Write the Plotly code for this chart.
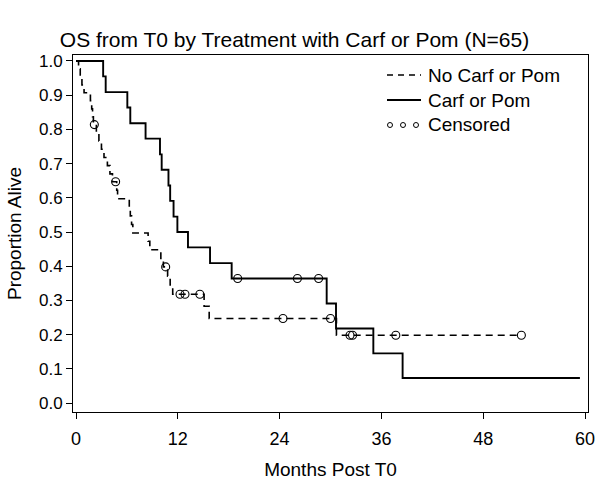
import plotly.graph_objects as go

# ---- data ----
no_times = [0, 0.3, 0.5, 0.7, 0.95, 1.7, 1.85, 1.95, 2.05, 2.4, 2.7, 3.0, 3.3, 3.7, 4.0, 4.3,
            4.8, 4.9, 6.28, 6.4, 6.55, 6.7, 8.5, 8.7, 10.0, 10.3, 10.8, 11.1, 11.4, 15.1, 15.7,
            30.7, 52.5]
no_surv = [1.0, 0.977, 0.953, 0.930, 0.907, 0.884, 0.860, 0.837, 0.814, 0.790, 0.766, 0.742,
           0.718, 0.694, 0.670, 0.647, 0.622, 0.597, 0.572, 0.547, 0.522, 0.497, 0.473, 0.448,
           0.423, 0.398, 0.371, 0.345, 0.318, 0.283, 0.247, 0.198, 0.198]
no_cens_t = [2.16, 4.67, 10.57, 12.26, 12.85, 14.6, 24.4, 30.0, 32.3, 32.6, 37.7, 52.5]
no_cens_s = [0.814, 0.647, 0.398, 0.318, 0.318, 0.318, 0.247, 0.247, 0.198, 0.198, 0.198, 0.198]

cp_times = [0, 3.2, 3.5, 6.05, 6.4, 8.2, 9.9, 10.1, 10.9, 11.1, 11.5, 11.95, 13.2, 15.8, 18.35,
            29.55, 30.65, 35.05, 38.5, 59.4]
cp_surv = [1.0, 0.955, 0.909, 0.864, 0.818, 0.773, 0.727, 0.682, 0.636, 0.591, 0.545, 0.5,
           0.455, 0.409, 0.364, 0.291, 0.218, 0.145, 0.073, 0.073]
cp_cens_t = [19.06, 26.1, 28.6]
cp_cens_s = [0.364, 0.364, 0.364]

x_ticks = [0, 12, 24, 36, 48, 60]
y_ticks = [0.0, 0.1, 0.2, 0.3, 0.4, 0.5, 0.6, 0.7, 0.8, 0.9, 1.0]

title_text = "OS from T0 by Treatment with Carf or Pom (N=65)"
legend_names = ["No Carf or Pom", "Carf or Pom", "Censored"]

FONT = "Liberation Sans, Arial, sans-serif"
W, H = 600, 480
L, R, T, B = 73, 588, 55, 412

fig = go.Figure()
fig.add_trace(go.Scatter(x=no_times, y=no_surv, mode="lines", line_shape="hv",
                         line=dict(color="black", width=1.6, dash="7px,5px"),
                         showlegend=False, hoverinfo="skip"))
fig.add_trace(go.Scatter(x=cp_times, y=cp_surv, mode="lines", line_shape="hv",
                         line=dict(color="black", width=1.9),
                         showlegend=False, hoverinfo="skip"))
fig.add_trace(go.Scatter(x=no_cens_t + cp_cens_t, y=no_cens_s + cp_cens_s, mode="markers",
                         marker=dict(symbol="circle-open", size=8, color="black",
                                     line=dict(width=1.1, color="black")),
                         showlegend=False, hoverinfo="skip"))

# manual legend (paper coordinates)
def px(xp):
    return (xp - L) / (R - L)

def py(yp):
    return (B - yp) / (B - T)

rows = [75, 100, 125]
shapes = []
shapes.append(dict(type="line", xref="paper", yref="paper", x0=px(387), x1=px(421),
                   y0=py(rows[0]), y1=py(rows[0]),
                   line=dict(color="black", width=1.5, dash="6px,5px")))
shapes.append(dict(type="line", xref="paper", yref="paper", x0=px(387), x1=px(421),
                   y0=py(rows[1]), y1=py(rows[1]), line=dict(color="black", width=1.9)))
for cx in [390, 403, 416]:
    shapes.append(dict(type="circle", xref="paper", yref="paper",
                       x0=px(cx - 2.5), x1=px(cx + 2.5), y0=py(rows[2] + 2.5), y1=py(rows[2] - 2.5),
                       line=dict(color="black", width=1)))
annotations = []
for name, r in zip(legend_names, rows):
    annotations.append(dict(text=name, xref="paper", yref="paper", x=px(426), y=py(r),
                            xanchor="left", yanchor="middle", showarrow=False,
                            font=dict(family=FONT, size=19, color="black")))

fig.update_layout(
    width=W, height=H,
    margin=dict(l=L, r=W - R, t=T, b=H - B, pad=0, autoexpand=False),
    paper_bgcolor="white", plot_bgcolor="white",
    title=dict(text=title_text, x=294.5 / W, xanchor="center", xref="container", y=1 - 40 / H,
               yanchor="middle", automargin=False,
               font=dict(family=FONT, size=21, color="black")),
    font=dict(family=FONT, color="black"),
    shapes=shapes, annotations=annotations,
    showlegend=False,
)
fig.update_xaxes(range=[-0.354, 60.354], tickvals=x_ticks, ticktext=[str(v) for v in x_ticks],
                 automargin=False,
                 showgrid=False, zeroline=False, showline=True, linecolor="black", linewidth=1,
                 mirror=True, ticks="outside", ticklen=6, tickcolor="black", tickwidth=1,
                 ticklabelstandoff=4,
                 tickfont=dict(family=FONT, size=18),
                 title=dict(text="Months Post T0", font=dict(family=FONT, size=19), standoff=20))
fig.update_yaxes(range=[-0.0263, 1.0175], tickvals=y_ticks, ticktext=[f"{v:.1f}" for v in y_ticks],
                 automargin=False,
                 showgrid=False, zeroline=False, showline=True, linecolor="black", linewidth=1,
                 mirror=True, ticks="outside", ticklen=6, tickcolor="black", tickwidth=1,
                 tickfont=dict(family=FONT, size=17),
                 title=dict(text="Proportion Alive", font=dict(family=FONT, size=19), standoff=12))

fig.write_html("out.html", config={"displayModeBar": False},
               post_script="document.body.style.margin='0';")
